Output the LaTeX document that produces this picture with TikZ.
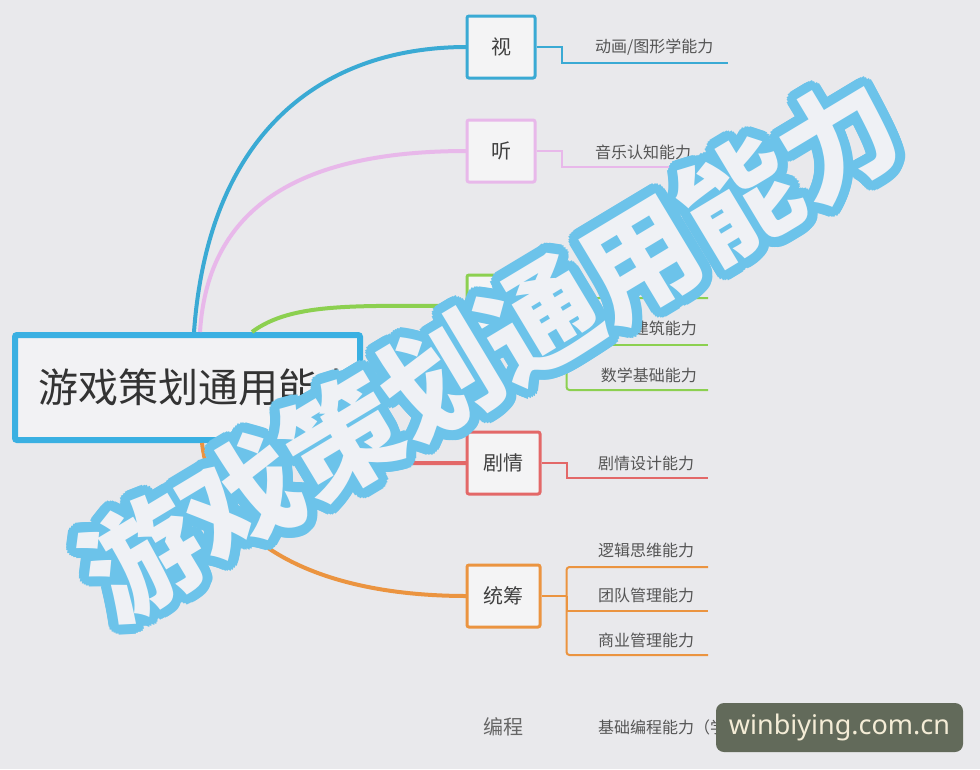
\documentclass[tikz,border=0pt]{standalone}
\usepackage{fontspec}
\setmainfont{Noto Sans CJK SC}
\newfontfamily\badgefont{Noto Sans}
\usetikzlibrary{calc}

\definecolor{bg}{HTML}{E9E9EC}
\definecolor{rootblue}{HTML}{3AB0E2}
\definecolor{seeblue}{HTML}{3AAAD4}
\definecolor{hearpink}{HTML}{E8B8EA}
\definecolor{artgreen}{HTML}{8CD050}
\definecolor{plotred}{HTML}{E36868}
\definecolor{planorange}{HTML}{EB9440}
\definecolor{wmblue}{HTML}{6CC3EA}
\definecolor{wmfill}{HTML}{EFF1F5}
\definecolor{badgebg}{HTML}{626A5A}
\definecolor{badgetext}{HTML}{F4ECD6}
\definecolor{labelgray}{HTML}{555555}

\tikzstyle{root} = [rectangle, draw=rootblue, line width=6pt, fill=bg!60!white, rounded corners=2pt, minimum height=105pt, text width=299pt, inner xsep=23pt, align=left, font=\fontsize{40pt}{40pt}\selectfont, text=black!80]
\tikzstyle{block} = [rectangle, draw, line width=3pt, fill=bg!50!white, rounded corners=2pt, minimum width=68pt, minimum height=62pt, font=\fontsize{20pt}{20pt}\selectfont, text=black!75]
\tikzstyle{leaf} = [inner sep=0pt, font=\fontsize{16pt}{16pt}\selectfont, text=labelgray]
\tikzstyle{branch} = [line width=4pt]
\tikzstyle{line} = [line width=2pt]
\tikzstyle{wmback} = [inner sep=0pt, rotate=31, text=wmblue, font=\fontsize{116pt}{116pt}\selectfont\bfseries]
\tikzstyle{wmfront} = [wmback, text=wmfill]
\tikzstyle{badge} = [rectangle, fill=badgebg, rounded corners=8pt, minimum width=247pt, minimum height=49pt, text=badgetext, font=\badgefont\fontsize{27pt}{27pt}\selectfont]

\begin{document}
\begin{tikzpicture}[x=1pt, y=-1pt]

  \fill[bg] (0,0) rectangle (980,769);
  \useasboundingbox (0,0) rectangle (980,769);

  \node[root] (root) at (187.5,387.5) {游戏策划通用能力};

  % main branches
  \draw[branch, seeblue] ([xshift=182pt]root.north west) .. controls +(15,-205) and +(-140,0) .. (467,47) coordinate (seein);
  \draw[branch, hearpink] ([xshift=188pt]root.north west) .. controls +(8,-130) and +(-160,0) .. (467,151) coordinate (hearin);
  \draw[branch, artgreen] ([xshift=240pt]root.north west) .. controls +(40,-30) and +(-110,0) .. (467,306) coordinate (artin);
  \draw[branch, plotred] ([xshift=200pt]root.south west) .. controls +(30,25) and +(-120,0) .. (467,463) coordinate (plotin);
  \draw[branch, planorange] ([xshift=190pt]root.south west) .. controls +(12,100) and +(-150,0) .. (467,596) coordinate (planin);

  \node[block, draw=seeblue] (see) at (501,47) {视};
  \node[block, draw=hearpink] (hear) at (501,151) {听};
  \node[block, draw=artgreen] (art) at (501,306) {};
  \node[block, draw=plotred, minimum width=73pt] (plot) at (503.5,463) {剧情};
  \node[block, draw=planorange, minimum width=73pt] (plan) at (503.5,596) {统筹};
  \node[font=\fontsize{20pt}{20pt}\selectfont, text=black!60] (code) at (503,727) {编程};

  % leaves
  \coordinate (see1) at (728,63);
  \draw[line, seeblue] (see.east) -- ++(25,0) |- (see1);
  \node[leaf, anchor=west] (see-a) at (595,47) {动画/图形学能力};

  \coordinate (hear1) at (720,167);
  \draw[line, hearpink] (hear.east) -- ++(25,0) |- (hear1);
  \node[leaf, anchor=west] (hear-a) at (595,152) {音乐认知能力};

  \coordinate (art1) at (708,298);
  \coordinate (art2) at (708,345);
  \coordinate (art3) at (708,390);
  \draw[line, artgreen] (art.east) -- ++(30,0) coordinate (artfork);
  \draw[line, artgreen, rounded corners=3pt] (art1) -| (artfork) |- (art3);
  \draw[line, artgreen] (artfork) |- (art2);
  \node[leaf, anchor=east] (art-b) at (697,328) {建筑能力};
  \node[leaf, anchor=east] (art-c) at (697,375) {数学基础能力};

  \coordinate (plot1) at (708,478);
  \draw[line, plotred] (plot.east) -- ++(25,0) |- (plot1);
  \node[leaf, anchor=west] (plot-a) at (598,463) {剧情设计能力};

  \coordinate (plan1) at (708,567);
  \coordinate (plan2) at (708,611);
  \coordinate (plan3) at (708,655);
  \draw[line, planorange] (plan.east) -- ++(25,0) coordinate (planfork);
  \draw[line, planorange, rounded corners=3pt] (plan1) -| (planfork) |- (plan3);
  \draw[line, planorange] (planfork) |- (plan2);
  \node[leaf, anchor=west] (plan-a) at (598,550) {逻辑思维能力};
  \node[leaf, anchor=west] (plan-b) at (598,595) {团队管理能力};
  \node[leaf, anchor=west] (plan-c) at (598,640) {商业管理能力};

  \node[leaf, anchor=west] (code-a) at (598,727) {基础编程能力（学};

  % overlay text
  \coordinate (wm) at (490,348);
  \foreach \a in {0,15,...,345}
    \node[wmback] (wm\a) at ($(wm)+(\a:10)$) {游戏策划通用能力};
  \node[wmfront] (wmtext) at (wm) {游戏策划通用能力};

  \node[badge] (badge) at (839.5,727.5) {winbiying.com.cn};

\end{tikzpicture}
\end{document}
